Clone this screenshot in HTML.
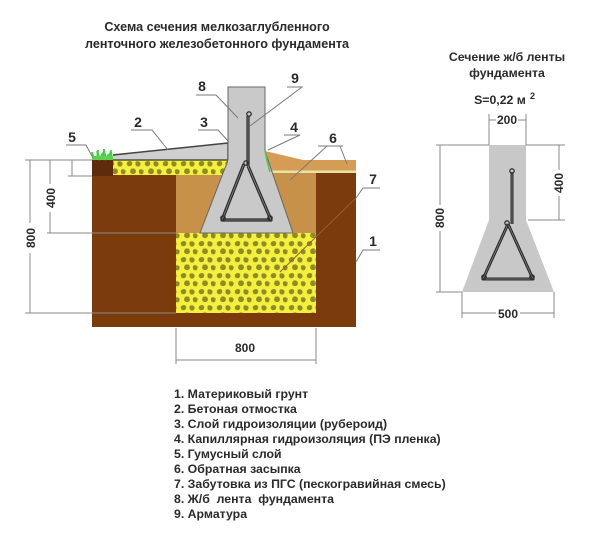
<!DOCTYPE html>
<html><head><meta charset="utf-8"><style>
html,body{margin:0;padding:0;background:#fff;}
svg{display:block;}
text{font-family:"Liberation Sans","Noto Sans CJK SC",sans-serif;font-weight:bold;fill:#2a2a2a;}
</style></head><body>
<svg width="600" height="543" viewBox="0 0 600 543" xmlns="http://www.w3.org/2000/svg">
<defs>
<pattern id="g" width="18" height="16" patternUnits="userSpaceOnUse">
<rect width="18" height="16" fill="#f4f03c"/>
<g fill="#8f8b2c">
<path d="M1 2.5 q2 -2.5 4.5 -1 q1.5 2 0 4 q-2.5 1.5 -4 0 q-1.2 -1.2 -0.5 -3z"/>
<path d="M10 1.5 q3 -1 4.5 1.5 q0.5 2.5 -1.5 3.5 q-3 0.5 -3.5 -2 q-0.3 -2 0.5 -3z"/>
<path d="M5 9 q2.5 -1.5 4.5 0.5 q1 2.5 -0.5 4 q-2.5 1.5 -4.5 -0.5 q-1 -2 0.5 -4z"/>
<path d="M13.5 9.5 q2.5 -1 4 1 q0.5 3 -1.5 3.8 q-2.5 0.5 -3 -1.8 q-0.5 -2 0.5 -3z"/>
</g>
</pattern>
</defs>

<!-- Titles -->
<text x="217" y="31" font-size="12.6" text-anchor="middle">Схема сечения мелкозаглубленного</text>
<text x="217" y="48" font-size="12.6" text-anchor="middle">ленточного железобетонного фундамента</text>

<!-- Ground -->
<rect x="92" y="160" width="264" height="167" fill="#7b3b0c"/>
<polygon points="265,151 303,160 356,160 356,171 265,171" fill="#d49c55"/>
<rect x="265" y="170.5" width="91" height="2.5" fill="#e6e3a6"/>
<rect x="176" y="175" width="140" height="58" fill="#c8914a"/>
<rect x="265" y="173" width="51" height="2" fill="#c8914a"/>
<rect x="176" y="233" width="140" height="80" fill="url(#g)"/>
<rect x="113" y="160" width="115" height="15" fill="url(#g)"/>
<rect x="92" y="160" width="21" height="16" fill="#5e2c0c"/>
<g stroke="#3fcf3f" stroke-width="2" fill="none">
<path d="M94 160 l-2 -8 M97 160 l1 -10 M100 160 l-3 -9 M103 160 l1 -11 M106 160 l-2 -9 M109 160 l2 -10 M112 160 l-1 -8 M99 160 l4 -7 M105 160 l4 -6"/>
</g>
<rect x="92" y="156" width="21" height="4" fill="#5fd04f"/>
<polygon points="113,155 228,143 228,160 113,160" fill="#cfcfcf"/>
<line x1="113" y1="155" x2="228" y2="143" stroke="#444" stroke-width="1.5"/>
<line x1="113" y1="160" x2="228" y2="160" stroke="#333" stroke-width="1.2"/>
<line x1="228" y1="143" x2="228" y2="160" stroke="#333" stroke-width="1.5"/>

<!-- Foundation -->
<path d="M228 87 L265 87 L265 150 Q266 155 268 160 L293 233 L200 233 L225 168 Q228 162 228 158 Z" fill="#c9c9c9" stroke="#666" stroke-width="1"/>
<path d="M265 150 Q266 158 270 172" stroke="#4cc94c" stroke-width="1.5" fill="none"/>
<g fill="none" stroke-linejoin="round">
<path d="M248 166 L248 116 M244 164 L222 220 L271 220 L248 166" stroke="#2a2a2a" stroke-width="3.2"/>
<path d="M248 166 L248 116 M244 164 L222 220 L271 220 L248 166" stroke="#8a8a8a" stroke-width="0.8"/>
<circle cx="249" cy="114" r="2.2" stroke="#333" stroke-width="1.3"/>
<circle cx="246" cy="163" r="2.2" stroke="#333" stroke-width="1.3"/>
<circle cx="223" cy="218" r="2.2" stroke="#333" stroke-width="1.3"/>
<circle cx="270" cy="218" r="2.2" stroke="#333" stroke-width="1.3"/>
</g>

<!-- Leaders -->
<g stroke="#7a7a7a" stroke-width="1" fill="none">
<path d="M66 145 L86 145 L93 158"/>
<path d="M131 130 L152 130 L168 150"/>
<path d="M198 130 L218 130 L229 142"/>
<path d="M196 95 L216 95 L238 118"/>
<path d="M287 87 L302 87 L250 126"/>
<path d="M284 135 L300 135 L268 150"/>
<path d="M318 146 L343 146 M327 146 L290 180 M340 146 L347 164"/>
<path d="M380 188 L363 188 L356 198"/>
<path d="M380 250 L363 250 L356 262"/>
</g>
<line x1="356" y1="198" x2="280" y2="272" stroke="#9a5a40" stroke-width="1"/>
<text x="72" y="142" font-size="14" text-anchor="middle">5</text>
<text x="138" y="127" font-size="14" text-anchor="middle">2</text>
<text x="204" y="127" font-size="14" text-anchor="middle">3</text>
<text x="202" y="91" font-size="14" text-anchor="middle">8</text>
<text x="295" y="83" font-size="14" text-anchor="middle">9</text>
<text x="294" y="132" font-size="14" text-anchor="middle">4</text>
<text x="333" y="143" font-size="14" text-anchor="middle">6</text>
<text x="373" y="184" font-size="14" text-anchor="middle">7</text>
<text x="373" y="246" font-size="14" text-anchor="middle">1</text>

<!-- Left dimensions -->
<g stroke="#888" stroke-width="1" fill="none">
<line x1="25" y1="160" x2="92" y2="160"/>
<line x1="68" y1="176" x2="92" y2="176"/>
<line x1="47" y1="233" x2="176" y2="233"/>
<line x1="25" y1="313" x2="176" y2="313"/>
<line x1="30" y1="160" x2="30" y2="313"/>
<line x1="50" y1="160" x2="50" y2="233"/>
<line x1="72" y1="160" x2="72" y2="176"/>
<line x1="176" y1="328" x2="176" y2="364"/>
<line x1="316" y1="328" x2="316" y2="364"/>
<line x1="176" y1="360" x2="316" y2="360"/>
</g>
<rect x="24" y="223" width="12" height="30" fill="#fff"/>
<text transform="translate(35,238) rotate(-90)" font-size="12" text-anchor="middle">800</text>
<rect x="44" y="184" width="12" height="28" fill="#fff"/>
<text transform="translate(55,198) rotate(-90)" font-size="12" text-anchor="middle">400</text>
<text x="245" y="352" font-size="12" text-anchor="middle">800</text>

<!-- Right section -->
<text x="507" y="61" font-size="12.3" text-anchor="middle">Сечение ж/б ленты</text>
<text x="507" y="77" font-size="12.3" text-anchor="middle">фундамента</text>
<text x="500" y="104" font-size="12.3" text-anchor="middle">S=0,22 м</text>
<text x="530" y="99" font-size="9">2</text>

<polygon points="489,145 526,145 526,220 554,292 462,292 489,220" fill="#c8c8c8"/>
<g fill="none" stroke-linejoin="round">
<path d="M512 224 L512 172 M508 224 L483 279 L533 279 L508 224" stroke="#2a2a2a" stroke-width="3"/>
<path d="M512 224 L512 172 M508 224 L483 279 L533 279 L508 224" stroke="#8a8a8a" stroke-width="0.7"/>
<circle cx="512" cy="171" r="2.2" stroke="#333" stroke-width="1.3"/>
<circle cx="507" cy="223" r="2.2" stroke="#333" stroke-width="1.3"/>
<circle cx="484" cy="277" r="2.2" stroke="#333" stroke-width="1.3"/>
<circle cx="532" cy="277" r="2.2" stroke="#333" stroke-width="1.3"/>
</g>
<g stroke="#888" stroke-width="1" fill="none">
<line x1="489" y1="114" x2="489" y2="145"/>
<line x1="526" y1="114" x2="526" y2="145"/>
<line x1="489" y1="120" x2="526" y2="120"/>
<line x1="436" y1="145" x2="489" y2="145"/>
<line x1="436" y1="292" x2="462" y2="292"/>
<line x1="440" y1="145" x2="440" y2="292"/>
<line x1="526" y1="145" x2="565" y2="145"/>
<line x1="528" y1="220" x2="565" y2="220"/>
<line x1="559" y1="145" x2="559" y2="220"/>
<line x1="462" y1="292" x2="462" y2="318"/>
<line x1="554" y1="292" x2="554" y2="318"/>
<line x1="462" y1="313" x2="554" y2="313"/>
</g>
<rect x="496" y="113" width="22" height="14" fill="#fff"/>
<text x="507" y="124" font-size="12" text-anchor="middle">200</text>
<rect x="434" y="205" width="12" height="26" fill="#fff"/>
<text transform="translate(444,218) rotate(-90)" font-size="12" text-anchor="middle">800</text>
<rect x="553" y="170" width="12" height="26" fill="#fff"/>
<text transform="translate(563,183) rotate(-90)" font-size="12" text-anchor="middle">400</text>
<rect x="496" y="307" width="24" height="14" fill="#fff"/>
<text x="508" y="318" font-size="12" text-anchor="middle">500</text>

<!-- Legend -->
<g font-size="12.3">
<text x="174" y="398">1. Материковый грунт</text>
<text x="174" y="413">2. Бетоная отмостка</text>
<text x="174" y="428">3. Слой гидроизоляции (рубероид)</text>
<text x="174" y="443">4. Капиллярная гидроизоляция (ПЭ пленка)</text>
<text x="174" y="458">5. Гумусный слой</text>
<text x="174" y="473">6. Обратная засыпка</text>
<text x="174" y="488">7. Забутовка из ПГС (пескогравийная смесь)</text>
<text x="174" y="503" xml:space="preserve">8. Ж/б  лента  фундамента</text>
<text x="174" y="518">9. Арматура</text>
</g>
</svg>
</body></html>
